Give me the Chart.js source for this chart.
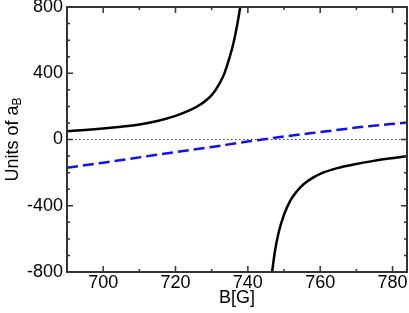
<!DOCTYPE html>
<html>
<head>
<meta charset="utf-8">
<script src="https://cdn.jsdelivr.net/npm/chart.js@4"></script>
<style>
  html, body { margin: 0; padding: 0; background: #fff; }
  #wrap { width: 409px; height: 313px; }
</style>
</head>
<body>
<div id="wrap"><canvas id="canvas" width="409" height="313"></canvas></div>
<script>
// valeurs (B en G, a en unités de a_B)
const bLeft = [690, 695, 700, 705, 710, 715, 720, 724, 727, 730, 732, 733.5, 735, 736, 737, 737.9];
const aLeft = [50, 57, 66, 77, 91, 112, 143, 177, 213, 268, 332, 398, 500, 580, 685, 800];

const bRight = [746.7, 747.5, 748.5, 750, 751.7, 753.5, 755.4, 758, 760, 764.7, 770, 774, 779, 784];
const aRight = [-800, -673, -563, -454, -370, -314, -270, -230, -207, -173, -148, -132, -115, -101];

const bBg = [690, 700, 710, 720, 730, 740, 750, 760, 770, 784];
const aBg = [-171, -140, -108, -76, -45, -12, 18, 45, 72, 103];

const bZero = [690, 784];
const aZero = [0, 0];

const xTicks = [700, 720, 740, 760, 780];
const yTicks = [-800, -400, 0, 400, 800];

const FONT = "'Liberation Sans', Arial, sans-serif";

function toPoints(xs, ys) {
    let pts = [];
    for (let i = 0; i < xs.length; i++) {
        pts.push({x: xs[i], y: ys[i]});
    }
    return pts;
}

// cadre, graduations vers l'intérieur, étiquettes et titres des axes
const framePlugin = {
    id: 'frame',
    afterDraw(chart) {
        const ctx = chart.ctx;
        const a = chart.chartArea;
        const xs = chart.scales.x;
        const ys = chart.scales.y;
        ctx.save();
        ctx.strokeStyle = '#333';
        ctx.lineWidth = 1.5;
        for (let v = 690; v <= 784; v += 10) {
            const px = xs.getPixelForValue(v);
            const len = v % 20 === 0 ? 6 : 3;
            ctx.beginPath();
            ctx.moveTo(px, a.bottom); ctx.lineTo(px, a.bottom - len);
            ctx.moveTo(px, a.top); ctx.lineTo(px, a.top + len);
            ctx.stroke();
        }
        for (let v = -800; v <= 800; v += 100) {
            const py = ys.getPixelForValue(v);
            const len = v % 400 === 0 ? 6 : 3;
            ctx.beginPath();
            ctx.moveTo(a.left, py); ctx.lineTo(a.left + len, py);
            ctx.moveTo(a.right, py); ctx.lineTo(a.right - len, py);
            ctx.stroke();
        }
        ctx.lineWidth = 2;
        ctx.strokeRect(a.left, a.top, a.right - a.left, a.bottom - a.top);

        ctx.fillStyle = '#000';
        ctx.font = '18px ' + FONT;
        ctx.textBaseline = 'middle';
        ctx.textAlign = 'center';
        xTicks.forEach(v => ctx.fillText(String(v), xs.getPixelForValue(v), a.bottom + 11));
        ctx.textAlign = 'right';
        yTicks.forEach(v => ctx.fillText(String(v), a.left - 4, ys.getPixelForValue(v)));

        ctx.textAlign = 'center';
        ctx.fillText('B[G]', (a.left + a.right) / 2, 298);

        ctx.translate(13, (a.top + a.bottom) / 2);
        ctx.rotate(-Math.PI / 2);
        const main = 'Units of a';
        const w1 = ctx.measureText(main).width;
        ctx.font = '12px ' + FONT;
        const w2 = ctx.measureText('B').width;
        const x0 = -(w1 + w2) / 2;
        ctx.textAlign = 'left';
        ctx.font = '18px ' + FONT;
        ctx.fillText(main, x0, 0);
        ctx.font = '12px ' + FONT;
        ctx.fillText('B', x0 + w1, 5);
        ctx.restore();
    }
};

const data = {
    datasets: [
        {
            data: toPoints(bZero, aZero),
            borderColor: '#444',
            borderWidth: 1.2,
            borderDash: [1.5, 2.5],
            pointRadius: 0
        },
        {
            data: toPoints(bBg, aBg),
            borderColor: '#1010f0',
            borderWidth: 2.5,
            borderDash: [11, 5],
            pointRadius: 0,
            cubicInterpolationMode: 'monotone'
        },
        {
            data: toPoints(bLeft, aLeft),
            borderColor: '#000',
            borderWidth: 2.5,
            pointRadius: 0,
            cubicInterpolationMode: 'monotone'
        },
        {
            data: toPoints(bRight, aRight),
            borderColor: '#000',
            borderWidth: 2.5,
            pointRadius: 0,
            cubicInterpolationMode: 'monotone'
        }
    ]
};

function noPad(scale) {
    scale.paddingTop = 0;
    scale.paddingBottom = 0;
    scale.paddingLeft = 0;
    scale.paddingRight = 0;
}

const config = {
    type: 'line',
    data: data,
    options: {
        responsive: false,
        animation: false,
        layout: {padding: {top: 7, right: 2, left: 0, bottom: 0}},
        plugins: {
            legend: {display: false},
            tooltip: {enabled: false}
        },
        scales: {
            x: {
                type: 'linear',
                min: 690,
                max: 784,
                afterFit: function(scale) { scale.height = 41; noPad(scale); },
                grid: {display: false},
                border: {display: false},
                ticks: {display: false}
            },
            y: {
                min: -800,
                max: 800,
                afterFit: function(scale) { scale.width = 67; noPad(scale); },
                grid: {display: false},
                border: {display: false},
                ticks: {display: false}
            }
        }
    },
    plugins: [framePlugin]
};

new Chart(document.getElementById('canvas'), config);
</script>
</body>
</html>
